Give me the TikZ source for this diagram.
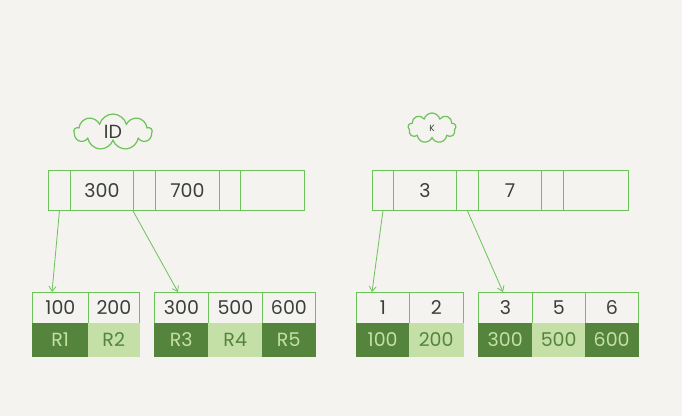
\documentclass[tikz,border=0pt]{standalone}
\usepackage{fontspec}
\setmainfont{Poppins}
\usetikzlibrary{shapes.symbols,arrows.meta}
\definecolor{bg}{HTML}{F4F3EF}
\definecolor{ln}{HTML}{6CC35A}
\definecolor{dk}{HTML}{55843D}
\definecolor{lt}{HTML}{C4E0A6}
\definecolor{tx}{HTML}{3A3F3A}
\begin{document}
\begin{tikzpicture}[x=1pt,y=-1pt,
 fnt/.style={font=\fontsize{19}{20}\selectfont},
 cell/.style={draw=ln,line width=0.9pt,fill=bg,minimum height=#1,inner sep=0,text=tx,fnt},
 lbl/.style={fill=#1,draw=#1,inner sep=0},
 arr/.style={draw=ln,line width=0.8pt,-{Straight Barb[length=5pt,width=7pt]}},
 cld/.style={cloud,cloud puffs=9,draw=ln,line width=1.2pt,cloud ignores aspect,inner sep=0pt,text=tx}]
\fill[bg] (0,0) rectangle (682,416);
\useasboundingbox (0,0) rectangle (682,416);
\foreach \a/\b/\n/\t in {48/70/p1/,70/133/k1/300,133/155/p2/,155/219/k2/700,219/240/p3/,240/304/k3/}
 {\node[cell=40pt,minimum width=\b pt-\a pt,anchor=north west] (L\n) at (\a,170) {\t};}
\foreach \a/\b/\n/\t in {372/393/p1/,393/456/k1/3,456/478/p2/,478/541/k2/7,541/563/p3/,563/628/k3/}
 {\node[cell=40pt,minimum width=\b pt-\a pt,anchor=north west] (R\n) at (\a,170) {\t};}
\node[cld,minimum width=78pt,minimum height=36pt,fnt] (id) at (113,132) {ID};
\node[cld,minimum width=48pt,minimum height=30pt,font=\small] (kk) at (432,128) {K};
\foreach \a/\b/\t/\c/\n in {32/88/100/dk/a,88/139/200/lt/b,154/208/300/dk/c,208/262/500/lt/d,262/315/600/dk/e,
 356/409/1/dk/f,409/463/2/lt/g,478/532/3/dk/h,532/585/5/lt/i,585/638/6/dk/j}
 {\node[cell=31pt,minimum width=\b pt-\a pt,anchor=north west] (t\n) at (\a,292) {\t};
  \node[lbl=\c,minimum width=\b pt-\a pt,minimum height=33pt,anchor=north west] (v\n) at (\a,323) {};}
\foreach \n/\r in {a/R1,c/R3,e/R5,f/100,h/300,j/600} \node[text=lt,fnt] at (v\n) {\r};
\foreach \n/\r in {b/R2,d/R4,g/200,i/500} \node[text=dk,fnt] at (v\n) {\r};
\coordinate (e1) at (52,292); \coordinate (e2) at (178,292);
\coordinate (e3) at (372,292); \coordinate (e4) at (503,292);
\draw[arr] (Lp1.south) -- (e1);
\draw[arr] (Lp2.south west) -- (e2);
\draw[arr] (Rp1.south) -- (e3);
\draw[arr] (Rp2.south) -- (e4);
\end{tikzpicture}
\end{document}
